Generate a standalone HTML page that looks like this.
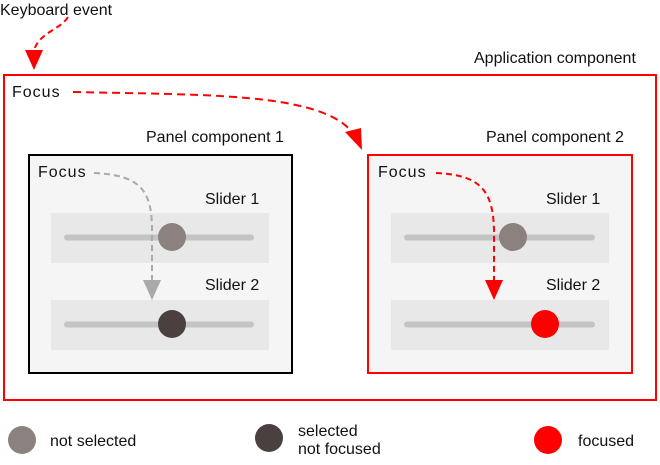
<!DOCTYPE html>
<html><head><style>
html,body{margin:0;padding:0;background:#fff;width:660px;height:465px;overflow:hidden}
svg text{font-family:"Liberation Sans",sans-serif;font-size:16px;fill:#111}
.f{letter-spacing:1px}
</style></head><body>
<svg width="660" height="465" viewBox="0 0 660 465" xmlns="http://www.w3.org/2000/svg">
<text x="0" y="15">Keyboard event</text>
<path d="M68 17 C60 30 40 32 34 50" fill="none" stroke="#f00" stroke-width="2" stroke-dasharray="6,4"/>
<polygon points="25,50 43,50 34,70" fill="#f00"/>
<rect x="4" y="75" width="652" height="325" fill="#fff" stroke="#f00" stroke-width="2"/>
<text x="474" y="63">Application component</text>
<text x="12" y="97" class="f">Focus</text>
<path d="M73 92 C200 95 320 92 352 132" fill="none" stroke="#f00" stroke-width="2" stroke-dasharray="8,5"/>
<polygon points="345,132 361,128 362,150" fill="#f00"/>
<text x="146" y="142">Panel component 1</text>
<rect x="29" y="155" width="263" height="218" fill="#f5f5f5" stroke="#000" stroke-width="2"/>
<text x="38" y="177" class="f">Focus</text>
<rect x="51" y="213" width="218" height="50" fill="#e8e8e8"/>
<rect x="51" y="300" width="218" height="50" fill="#e8e8e8"/>
<text x="205" y="204">Slider 1</text>
<text x="205" y="290">Slider 2</text>
<line x1="67" y1="237.5" x2="251" y2="237.5" stroke="#c4c4c4" stroke-width="6" stroke-linecap="round"/>
<line x1="67" y1="324.5" x2="251" y2="324.5" stroke="#c4c4c4" stroke-width="6" stroke-linecap="round"/>
<circle cx="172" cy="237" r="14" fill="#8b8280"/>
<path d="M94 173 C140 175 152 190 152 230 L152 280" fill="none" stroke="#aaa" stroke-width="2" stroke-dasharray="6,4"/>
<polygon points="143,280 161,280 152,300" fill="#aaa"/>
<circle cx="172" cy="324" r="14" fill="#4a4040"/>
<text x="486" y="142">Panel component 2</text>
<rect x="368" y="155" width="264" height="218" fill="#f5f5f5" stroke="#f00" stroke-width="2"/>
<text x="378" y="177" class="f">Focus</text>
<rect x="391" y="213" width="218" height="50" fill="#e8e8e8"/>
<rect x="391" y="300" width="218" height="50" fill="#e8e8e8"/>
<text x="546" y="204">Slider 1</text>
<text x="546" y="290">Slider 2</text>
<line x1="407" y1="237.5" x2="592" y2="237.5" stroke="#c4c4c4" stroke-width="6" stroke-linecap="round"/>
<line x1="407" y1="324.5" x2="592" y2="324.5" stroke="#c4c4c4" stroke-width="6" stroke-linecap="round"/>
<circle cx="513" cy="237" r="14" fill="#8b8280"/>
<path d="M436 173 C480 175 493 190 494 230 L494 280" fill="none" stroke="#f00" stroke-width="2" stroke-dasharray="6,4"/>
<polygon points="485,280 503,280 494,300" fill="#f00"/>
<circle cx="545" cy="324" r="14" fill="#f00"/>
<circle cx="22" cy="440" r="14" fill="#8b8280"/>
<text x="50" y="446">not selected</text>
<circle cx="269" cy="438" r="14" fill="#4a4040"/>
<text x="298" y="436">selected</text>
<text x="298" y="454">not focused</text>
<circle cx="548" cy="440" r="14" fill="#f00"/>
<text x="578" y="446">focused</text>
</svg>
</body></html>
